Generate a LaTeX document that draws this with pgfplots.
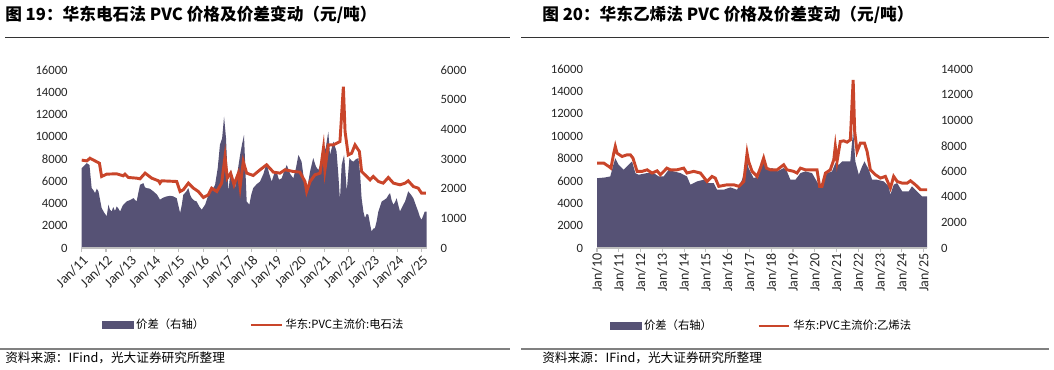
\documentclass[border=0pt]{standalone}
\usepackage{pgfplots}
\pgfplotsset{compat=1.18}
\usepackage{fontspec}
\setmainfont{Noto Sans CJK SC}
\newfontfamily\numfont{Carlito}
\definecolor{areac}{HTML}{565275}
\definecolor{linec}{HTML}{C9452A}
\definecolor{axc}{HTML}{BFBFBF}
\pgfplotsset{
  base/.style={
    anchor=south west, scale only axis,
    ymin=0, axis background/.style={fill=none},
    scaled y ticks=false,
    /pgf/number format/assume math mode=true,
    /pgf/number format/1000 sep={},
    tick align=outside, major tick length=3pt,
    ytick style={draw=none},
    yticklabel style={font=\numfont\fontsize{9.5}{10}\selectfont, text=black!85},
    xticklabel style={font=\numfont\fontsize{10.5}{11}\selectfont, text=black!85},
  },
  areaaxis/.style={base, axis y line*=right, axis x line=none,
    y axis line style={draw=none}, yticklabel style={xshift=4pt}},
  lineaxis/.style={base, axis y line*=left, axis x line*=bottom,
    y axis line style={draw=none},
    x axis line style={draw=axc, line width=1pt, -},
    xtick style={draw=axc, line width=0.8pt},
    yticklabel style={xshift=-4pt},
    legend style={draw=none, fill=none, legend columns=2,
      font=\fontsize{8.5}{10}\selectfont,
      /tikz/every even column/.append style={column sep=32pt},
      legend cell align=left},
  },
}
\begin{document}
\begin{tikzpicture}
\path[use as bounding box] (0,0) rectangle (790.5pt,-276.75pt);
% titles and rules
\node[anchor=west, inner sep=0pt, font=\bfseries\fontsize{12.5}{14}\selectfont] at (3.75pt,-10.9pt) {图 19：华东电石法 PVC 价格及价差变动（元/吨）};
\node[anchor=west, inner sep=0pt, font=\bfseries\fontsize{12.5}{14}\selectfont] at (406.5pt,-10.9pt) {图 20：华东乙烯法 PVC 价格及价差变动（元/吨）};
\draw[line width=1.1pt, draw=black!80] (3.75pt,-28pt) -- (382.5pt,-28pt);
\draw[line width=1.1pt, draw=black!80] (390.75pt,-28pt) -- (786.75pt,-28pt);
\draw[line width=0.9pt, draw=black!50] (0pt,-261.75pt) -- (382.5pt,-261.75pt);
\draw[line width=0.9pt, draw=black!50] (390.75pt,-261.75pt) -- (786.75pt,-261.75pt);
\node[anchor=west, inner sep=0pt, font=\fontsize{9.5}{11}\selectfont] at (3.75pt,-268.5pt) {资料来源：IFind，光大证券研究所整理};
\node[anchor=west, inner sep=0pt, font=\fontsize{9.5}{11}\selectfont] at (406.5pt,-268.5pt) {资料来源：IFind，光大证券研究所整理};

% ---------------- LEFT PANEL ----------------
\begin{axis}[areaaxis, at={(61.275pt,-186pt)}, width=258.75pt, height=133.5pt,
  xmin=2011, xmax=2025.2, ymax=6000, ytick={0,1000,...,6000}]
\addplot[fill=areac, draw=none] table {
2011.00 2690
2011.21 2860
2011.32 2800
2011.41 2020
2011.48 1950
2011.55 1850
2011.62 2000
2011.69 1910
2011.82 1350
2011.92 1200
2012.03 1070
2012.10 1460
2012.16 1300
2012.23 1230
2012.30 1380
2012.37 1250
2012.44 1400
2012.51 1330
2012.58 1230
2012.70 1450
2012.85 1570
2013.00 1620
2013.13 1680
2013.26 1570
2013.40 2130
2013.54 2190
2013.60 2050
2013.67 2020
2013.80 2000
2013.95 1910
2014.10 1800
2014.22 1630
2014.36 1700
2014.50 1740
2014.65 1760
2014.77 1740
2014.91 1680
2015.05 1180
2015.12 1450
2015.18 1790
2015.30 1900
2015.39 2020
2015.46 1800
2015.53 1680
2015.63 1600
2015.73 1570
2015.84 1400
2015.94 1290
2016.08 1460
2016.18 1700
2016.28 1910
2016.40 2000
2016.49 2130
2016.60 2700
2016.69 3480
2016.78 3700
2016.86 4430
2016.94 3700
2017.00 2500
2017.04 1910
2017.13 2630
2017.22 2400
2017.31 2020
2017.42 2600
2017.52 3140
2017.60 3500
2017.68 3810
2017.74 2600
2017.79 1570
2017.90 1460
2017.98 1800
2018.06 2020
2018.20 2150
2018.34 2240
2018.48 2500
2018.61 2860
2018.72 2500
2018.82 2240
2018.92 2500
2019.02 2580
2019.12 2300
2019.23 2350
2019.34 2600
2019.44 2800
2019.58 2500
2019.71 2350
2019.82 2700
2019.92 3140
2020.05 2910
2020.15 2300
2020.26 1910
2020.40 2580
2020.53 3030
2020.64 2750
2020.74 2630
2020.85 2900
2020.95 3140
2021.05 3400
2021.15 3920
2021.22 3140
2021.36 3590
2021.49 3250
2021.56 2500
2021.63 1630
2021.70 2800
2021.80 3140
2021.86 2500
2021.91 1910
2022.02 3030
2022.10 2950
2022.18 2910
2022.30 3000
2022.39 3030
2022.46 2500
2022.52 1680
2022.60 1200
2022.66 1010
2022.73 1150
2022.80 1120
2022.87 800
2022.93 560
2023.00 650
2023.07 670
2023.14 900
2023.21 1230
2023.28 1400
2023.35 1570
2023.45 1620
2023.55 1680
2023.62 1780
2023.69 1850
2023.76 1600
2023.83 1460
2023.90 1550
2023.96 1680
2024.03 1450
2024.10 1230
2024.20 1400
2024.31 1570
2024.38 1750
2024.44 1910
2024.55 1800
2024.65 1680
2024.75 1450
2024.85 1230
2024.92 1050
2024.99 950
2025.06 1100
2025.12 1230
2025.20 1230
} \closedcycle;
\end{axis}
\begin{axis}[lineaxis, at={(61.275pt,-186pt)}, width=258.75pt, height=133.5pt,
  xmin=2011, xmax=2025.2, ymax=16000, ytick={0,2000,...,16000},
  xtick={2011,...,2025},
  xticklabels={Jan/11,Jan/12,Jan/13,Jan/14,Jan/15,Jan/16,Jan/17,Jan/18,Jan/19,Jan/20,Jan/21,Jan/22,Jan/23,Jan/24,Jan/25},
  xticklabel style={rotate=45, anchor=north east, inner sep=1pt},
  legend style={at={(0.5,-0.433)}, anchor=center}]
\addlegendimage{legend image code/.code={\fill[areac] (0pt,-2.6pt) rectangle (23pt,2.6pt);}}
\addlegendentry{价差（右轴）}
\addplot[draw=linec, line width=2.2pt, legend image code/.code={\draw[linec, line width=2pt] (0pt,0pt) -- (23pt,0pt);}] table {
2011.00 7900
2011.21 7830
2011.34 8070
2011.55 7830
2011.73 7620
2011.82 6430
2012.03 6640
2012.44 6670
2012.71 6490
2012.78 6640
2012.92 6340
2013.26 6280
2013.40 6220
2013.61 6730
2013.88 6280
2014.16 6040
2014.22 5830
2014.29 6040
2014.91 5980
2015.05 5080
2015.18 5230
2015.39 5830
2015.60 5380
2015.80 5080
2016.01 4540
2016.21 4780
2016.35 5380
2016.56 5080
2016.76 5830
2016.90 8220
2016.99 6280
2017.13 6730
2017.27 5680
2017.45 6730
2017.52 5500
2017.65 7770
2017.79 6730
2018.06 6520
2018.34 7030
2018.61 7480
2018.89 6820
2019.16 6730
2019.37 7030
2019.71 6880
2019.98 6820
2020.19 5980
2020.26 5080
2020.40 5980
2020.60 6580
2020.81 6730
2020.95 8970
2021.01 7030
2021.15 9270
2021.36 9270
2021.63 9570
2021.77 14500
2021.84 10470
2021.97 8370
2022.11 8520
2022.25 9270
2022.43 8670
2022.52 6880
2022.73 6430
2022.87 6130
2023.00 6430
2023.21 5980
2023.41 5830
2023.62 6340
2023.83 5830
2024.10 5680
2024.31 5830
2024.44 6040
2024.65 5530
2024.85 5380
2024.99 4930
2025.17 4930
};
\addlegendentry{华东:PVC主流价:电石法}
\end{axis}

% ---------------- RIGHT PANEL ----------------
\begin{axis}[areaaxis, at={(447.75pt,-186pt)}, width=247.5pt, height=134.25pt,
  xmin=2010, xmax=2025.15, ymax=14000, ytick={0,2000,...,14000}]
\addplot[fill=areac, draw=none] table {
2010.00 5470
2010.08 5470
2010.38 5520
2010.61 5600
2010.73 6380
2010.84 7030
2010.99 6510
2011.22 6120
2011.45 6510
2011.61 6770
2011.76 5860
2011.91 5730
2012.30 5860
2012.60 5860
2012.83 5600
2013.06 5600
2013.29 6120
2013.52 5990
2013.83 5860
2014.13 5600
2014.29 4950
2014.59 5210
2014.90 5340
2015.13 5080
2015.36 5080
2015.51 4560
2015.82 4560
2016.12 4740
2016.43 4560
2016.66 5340
2016.89 6770
2016.96 6250
2017.19 5470
2017.42 5600
2017.65 7160
2017.81 6120
2018.04 6250
2018.27 5990
2018.57 6250
2018.72 5990
2018.88 5340
2019.11 5340
2019.34 5860
2019.57 5990
2019.87 5860
2020.18 4950
2020.33 5080
2020.56 5860
2020.79 5990
2020.94 6640
2021.10 6510
2021.25 6770
2021.48 6770
2021.63 6770
2021.76 9240
2021.86 6770
2022.02 5730
2022.17 6380
2022.28 6770
2022.48 6120
2022.63 5340
2022.86 5340
2023.16 5210
2023.39 4820
2023.47 4170
2023.62 4950
2023.78 5080
2024.01 4430
2024.31 4430
2024.46 4820
2024.69 4430
2024.92 4040
2025.15 4040
} \closedcycle;
\end{axis}
\begin{axis}[lineaxis, at={(447.75pt,-186pt)}, width=247.5pt, height=134.25pt,
  xmin=2010, xmax=2025.15, ymax=16000, ytick={0,2000,...,16000},
  xtick={2010,...,2025},
  xticklabels={Jan/10,Jan/11,Jan/12,Jan/13,Jan/14,Jan/15,Jan/16,Jan/17,Jan/18,Jan/19,Jan/20,Jan/21,Jan/22,Jan/23,Jan/24,Jan/25},
  xticklabel style={rotate=90, anchor=east, inner sep=1pt},
  legend style={at={(0.5,-0.436)}, anchor=center}]
\addlegendimage{legend image code/.code={\fill[areac] (0pt,-2.6pt) rectangle (23pt,2.6pt);}}
\addlegendentry{价差（右轴）}
\addplot[draw=linec, line width=2.2pt, legend image code/.code={\draw[linec, line width=2pt] (0pt,0pt) -- (23pt,0pt);}] table {
2010.00 7590
2010.31 7590
2010.54 7290
2010.64 7140
2010.77 8480
2010.84 9080
2010.92 8480
2011.15 8180
2011.38 8330
2011.53 8330
2011.65 8040
2011.84 6850
2012.07 6850
2012.30 6990
2012.53 6700
2012.76 6900
2012.91 6550
2013.21 7140
2013.37 6990
2013.67 6990
2013.98 7140
2014.13 6700
2014.44 6850
2014.75 6700
2015.05 5950
2015.28 6400
2015.43 6250
2015.59 5510
2015.97 5650
2016.28 5650
2016.51 5510
2016.74 5950
2016.89 8480
2016.96 7740
2017.12 6850
2017.35 6400
2017.50 7140
2017.65 8040
2017.78 7140
2017.96 6990
2018.27 6990
2018.57 7440
2018.72 6990
2019.03 6850
2019.18 6700
2019.34 7140
2019.57 6990
2019.80 6990
2020.10 6990
2020.22 5510
2020.33 5510
2020.49 6700
2020.71 6990
2020.87 7890
2020.94 9080
2021.02 7740
2021.17 9520
2021.33 9580
2021.48 9460
2021.63 9670
2021.76 15030
2021.83 10420
2021.94 8630
2022.09 9370
2022.28 9370
2022.40 8630
2022.55 6990
2022.78 6550
2023.01 6250
2023.24 6400
2023.47 5360
2023.62 6400
2023.78 5950
2024.01 5800
2024.24 5800
2024.39 6010
2024.62 5650
2024.85 5210
2025.00 5210
2025.15 5210
};
\addlegendentry{华东:PVC主流价:乙烯法}
\end{axis}
\end{tikzpicture}
\end{document}
